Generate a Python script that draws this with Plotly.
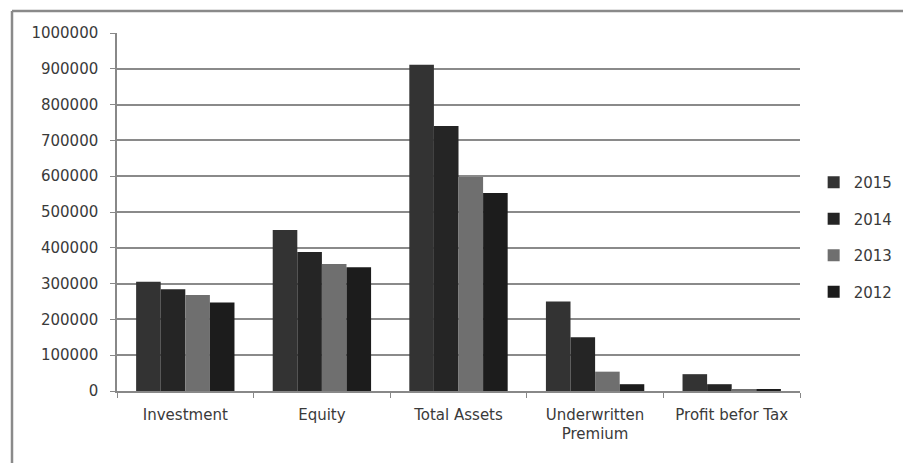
import plotly.graph_objects as go

categories = ["Investment", "Equity", "Total Assets", "Underwritten<br>Premium", "Profit befor Tax"]
years = ["2015", "2014", "2013", "2012"]
v2015 = [305000, 450000, 911000, 250000, 47000]
v2014 = [284000, 388000, 740000, 150000, 19000]
v2013 = [268000, 355000, 598000, 54000, 5000]
v2012 = [247000, 346000, 553000, 19000, 5000]
series = [v2015, v2014, v2013, v2012]
colors = ["#333333", "#252525", "#6f6f6f", "#1c1c1c"]

fig = go.Figure()
for name, vals, col in zip(years, series, colors):
    fig.add_trace(go.Bar(x=categories, y=vals, name=name, marker_color=col,
                         marker_line_width=0, legendgroup=name))

OFF = 8  # page body margin
L, R, T, B = 117 - OFF, 800 - OFF, 33 - OFF, 391 - OFF
W, H = 911 - OFF, 463 - OFF
def px(x):
    return (x - OFF - L) / (R - L)
def py(y):
    return (B - (y - OFF)) / (B - T)

FONT = "DejaVu Sans"
TXT = "#3a3a3a"
fig.update_layout(
    width=W, height=H,
    margin=dict(l=L, r=W - R, t=T, b=H - B, pad=0),
    paper_bgcolor="white", plot_bgcolor="white",
    barmode="group", bargap=0.28, bargroupgap=0,
    font=dict(family=FONT, size=15, color=TXT),
    showlegend=True,
    legend=dict(x=1.02, y=0.43, xanchor="left", yanchor="middle",
                traceorder="grouped", tracegroupgap=14, itemwidth=30,
                font=dict(size=15, color=TXT), bgcolor="rgba(0,0,0,0)"),
    xaxis=dict(showline=True, linecolor="#888888", linewidth=1.5,
               ticks="outside", tickson="boundaries", ticklen=5, tickcolor="#888888",
               ticklabelstandoff=9,
               showgrid=False, tickfont=dict(size=15, color=TXT)),
    yaxis=dict(range=[0, 1000000], dtick=100000, tickformat="d",
               showline=True, linecolor="#888888", linewidth=1.5,
               ticks="outside", ticklen=5, tickcolor="#888888",
               ticklabelstandoff=9,
               showgrid=True, gridcolor="#8a8a8a", gridwidth=1.5,
               zeroline=False, tickfont=dict(size=15, color=TXT)),
    shapes=[
        dict(type="line", xref="paper", yref="paper", x0=px(12), x1=px(908), y0=py(11), y1=py(11),
             line=dict(color="#8a8a8a", width=2.5)),
        dict(type="line", xref="paper", yref="paper", x0=px(12), x1=px(12), y0=py(11), y1=py(470),
             line=dict(color="#8a8a8a", width=2.5)),
    ],
)

fig.write_html("out.html")
